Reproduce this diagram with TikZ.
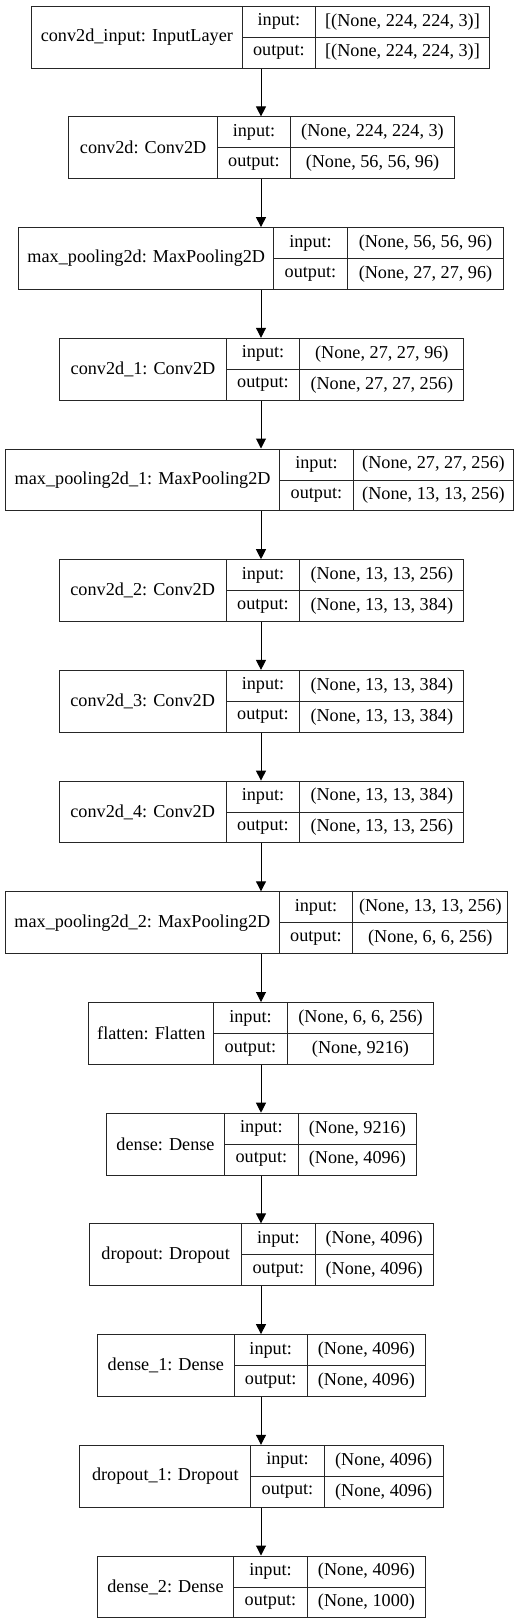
\documentclass[tikz,border=0pt]{standalone}
\usepackage{fontspec}
\setmainfont{Liberation Serif}
\usetikzlibrary{arrows.meta}
\tikzset{
  cell/.style={draw=black!85, line width=1pt, inner sep=0pt, anchor=north west, font=\fontsize{18.2}{22}\selectfont},
  frame/.style={draw=black!85, line width=1pt, inner sep=0pt, anchor=north west},
  arr/.style={draw=black, line width=1pt, -{Triangle[length=10pt,width=10pt]}}
}
\newcommand\layer[9]{%
  \pgfmathsetmacro\lyTop{5.7+(#2-1)*110.7}%
  \pgfmathsetmacro\lyMid{\lyTop+31}%
  \pgfmathsetmacro\lyWa{#4-#3}%
  \pgfmathsetmacro\lyWb{#5-#4}%
  \pgfmathsetmacro\lyWc{#6-#5}%
  \pgfmathsetmacro\lyWt{#6-#3}%
  \node[cell, minimum width=\lyWa pt, minimum height=61.8pt] (#1-name) at (#3,\lyTop) {#7};
  \node[cell, minimum width=\lyWb pt, minimum height=31pt] (#1-il) at (#4,\lyTop) {input:};
  \node[cell, minimum width=\lyWb pt, minimum height=30.8pt] (#1-ol) at (#4,\lyMid) {output:};
  \node[cell, minimum width=\lyWc pt, minimum height=31pt] (#1-iv) at (#5,\lyTop) {#8};
  \node[cell, minimum width=\lyWc pt, minimum height=30.8pt] (#1-ov) at (#5,\lyMid) {#9};
  \node[frame, minimum width=\lyWt pt, minimum height=61.8pt] (#1) at (#3,\lyTop) {};
}
\begin{document}
\begin{tikzpicture}[x=1pt,y=-1pt]
\useasboundingbox (0,0) rectangle (531,1623);
\coordinate (axis) at (261,0);
\layer{L1}{1}{31}{241.7}{315}{489}{conv2d\_input: InputLayer}{[(None, 224, 224, 3)]}{[(None, 224, 224, 3)]}
\layer{L2}{2}{68.3}{217}{290}{454}{conv2d: Conv2D}{(None, 224, 224, 3)}{(None, 56, 56, 96)}
\layer{L3}{3}{18.3}{273.3}{346.7}{503.3}{max\_pooling2d: MaxPooling2D}{(None, 56, 56, 96)}{(None, 27, 27, 96)}
\layer{L4}{4}{59.3}{225.7}{299.3}{463.3}{conv2d\_1: Conv2D}{(None, 27, 27, 96)}{(None, 27, 27, 256)}
\layer{L5}{5}{5}{279.3}{352.7}{513.3}{max\_pooling2d\_1: MaxPooling2D}{(None, 27, 27, 256)}{(None, 13, 13, 256)}
\layer{L6}{6}{58.7}{225.7}{299.3}{463.3}{conv2d\_2: Conv2D}{(None, 13, 13, 256)}{(None, 13, 13, 384)}
\layer{L7}{7}{58.7}{225.7}{299.3}{463.3}{conv2d\_3: Conv2D}{(None, 13, 13, 384)}{(None, 13, 13, 384)}
\layer{L8}{8}{58.7}{225.7}{299.3}{463.3}{conv2d\_4: Conv2D}{(None, 13, 13, 384)}{(None, 13, 13, 256)}
\layer{L9}{9}{5}{278.7}{352.3}{507.3}{max\_pooling2d\_2: MaxPooling2D}{(None, 13, 13, 256)}{(None, 6, 6, 256)}
\layer{L10}{10}{88.3}{213.3}{286.7}{433.3}{flatten: Flatten}{(None, 6, 6, 256)}{(None, 9216)}
\layer{L11}{11}{106}{224}{297.7}{416}{dense: Dense}{(None, 9216)}{(None, 4096)}
\layer{L12}{12}{89.3}{241}{314.7}{432.7}{dropout: Dropout}{(None, 4096)}{(None, 4096)}
\layer{L13}{13}{97}{233.7}{306.7}{425}{dense\_1: Dense}{(None, 4096)}{(None, 4096)}
\layer{L14}{14}{79.3}{250.3}{323.7}{442.7}{dropout\_1: Dropout}{(None, 4096)}{(None, 4096)}
\layer{L15}{15}{96.7}{233.3}{306.7}{425.3}{dense\_2: Dense}{(None, 4096)}{(None, 1000)}
\foreach \a/\b in {L1/L2,L2/L3,L3/L4,L4/L5,L5/L6,L6/L7,L7/L8,L8/L9,L9/L10,L10/L11,L11/L12,L12/L13,L13/L14,L14/L15}
  \draw[arr] (\a.south -| axis) -- (\b.north -| axis);
\end{tikzpicture}
\end{document}
